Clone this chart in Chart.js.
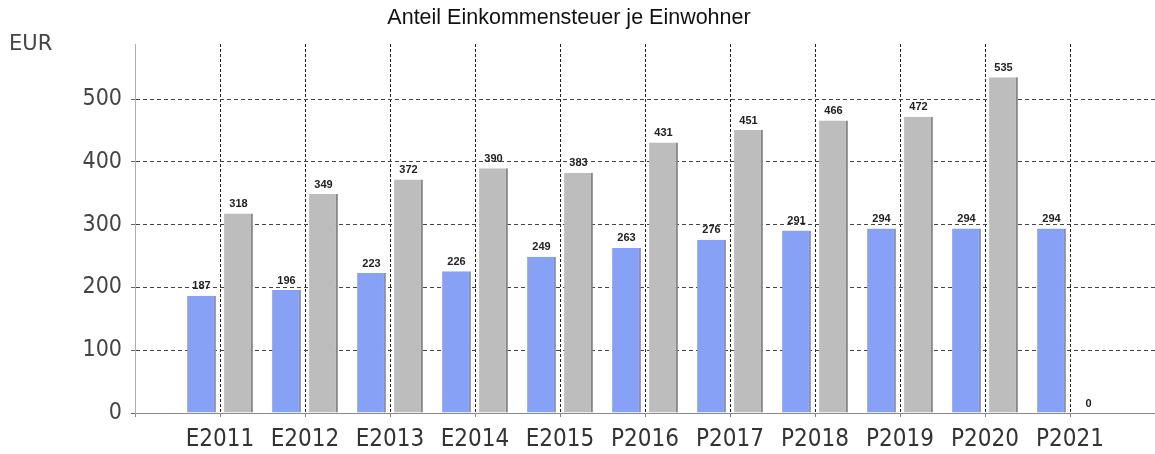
<!DOCTYPE html>
<html>
<head>
<meta charset="utf-8">
<script src="https://cdn.jsdelivr.net/npm/chart.js@4"></script>
<style>
  html, body { margin: 0; padding: 0; background: #fff; }
  #wrap { width: 1155px; height: 454px; }
</style>
</head>
<body>
<div id="wrap"><canvas id="einkChart" width="1155" height="454"></canvas></div>
<script>
// Kategorien (E = Ergebnis, P = Planung)
const years = ["E2011", "E2012", "E2013", "E2014", "E2015", "P2016", "P2017", "P2018", "P2019", "P2020", "P2021"];
// blaue Saeulen
const blueValues = [187, 196, 223, 226, 249, 263, 276, 291, 294, 294, 294];
// graue Saeulen
const grayValues = [318, 349, 372, 390, 383, 431, 451, 466, 472, 535, 0];
const yTicks = [0, 100, 200, 300, 400, 500];

const fontFam = "'DejaVu Sans Condensed', 'DejaVu Sans', sans-serif";

// leere Kategorie links und rechts, damit die Achse etwas Luft hat
const labels = [""].concat(years, [""]);
const pad = (arr) => [null].concat(arr, [null]);

// Titel, Wertbeschriftung, EUR-Label
const extras = {
  id: "extras",
  afterDatasetsDraw(chart) {
    const ctx = chart.ctx;
    ctx.save();
    ctx.font = "bold 11px 'Liberation Sans', Arial, sans-serif";
    ctx.fillStyle = "#222";
    ctx.textAlign = "center";
    ctx.textBaseline = "bottom";
    chart.data.datasets.forEach((ds, di) => {
      chart.getDatasetMeta(di).data.forEach((bar, i) => {
        const v = ds.data[i];
        if (v === null || v === undefined) return;
        ctx.fillText(String(v), bar.x, bar.y - 4);
      });
    });
    ctx.font = "21px 'DejaVu Sans', sans-serif";
    ctx.fillStyle = "#444";
    ctx.textAlign = "left";
    ctx.textBaseline = "middle";
    ctx.fillText("EUR", 9, 45);

    ctx.font = "21.5px 'Liberation Sans', Arial, sans-serif";
    ctx.fillStyle = "#111";
    ctx.textAlign = "center";
    ctx.fillText("Anteil Einkommensteuer je Einwohner", 569, 18);
    ctx.restore();
  }
};

const chart = new Chart(document.getElementById("einkChart").getContext("2d"), {
  type: "bar",
  data: {
    labels: labels,
    datasets: [
      {
        label: "blau",
        data: pad(blueValues),
        backgroundColor: "#87a1f6",
        borderColor: "#8e939c",
        borderWidth: { top: 0, right: 2, bottom: 0, left: 0 },
        borderSkipped: false,
        categoryPercentage: 0.87,
        barPercentage: 0.78
      },
      {
        label: "grau",
        data: pad(grayValues),
        backgroundColor: "#bdbdbd",
        borderColor: "#878787",
        borderWidth: { top: 0, right: 2, bottom: 0, left: 0 },
        borderSkipped: false,
        categoryPercentage: 0.87,
        barPercentage: 0.78
      }
    ]
  },
  options: {
    responsive: false,
    animation: false,
    layout: { padding: { top: 44, right: 0, bottom: 0, left: 0 } },
    plugins: {
      legend: { display: false },
      tooltip: { enabled: false },
      title: { display: false }
    },
    scales: {
      x: {
        offset: false,
        grid: {
          offset: false,
          color: (c) => (c.index === 0 || c.index === labels.length - 1) ? "rgba(0,0,0,0)" : "#222",
          tickColor: "#888",
          tickLength: 4,
          lineWidth: 1
        },
        border: { display: true, color: "#8a8a8a", dash: [3, 2] },
        ticks: {
          color: "#333",
          font: { family: fontFam, size: 24, lineHeight: 1.9 },
          maxRotation: 0,
          autoSkip: false,
          padding: 0
        },
        afterFit: (axis) => { axis.height = 41; }
      },
      y: {
        min: 0,
        max: 588,
        afterBuildTicks: (axis) => { axis.ticks = yTicks.map((v) => ({ value: v })); },
        grid: {
          color: (c) => (c.tick && c.tick.value === 0) ? "rgba(0,0,0,0)" : "#444",
          tickColor: "#666",
          tickLength: 4
        },
        border: { display: true, color: "#b0b0b0", dash: [4, 3] },
        ticks: { color: "#444", font: { family: fontFam, size: 23 }, padding: 9 },
        afterFit: (axis) => { axis.width = 135; }
      }
    }
  },
  plugins: [extras]
});
</script>
</body>
</html>
